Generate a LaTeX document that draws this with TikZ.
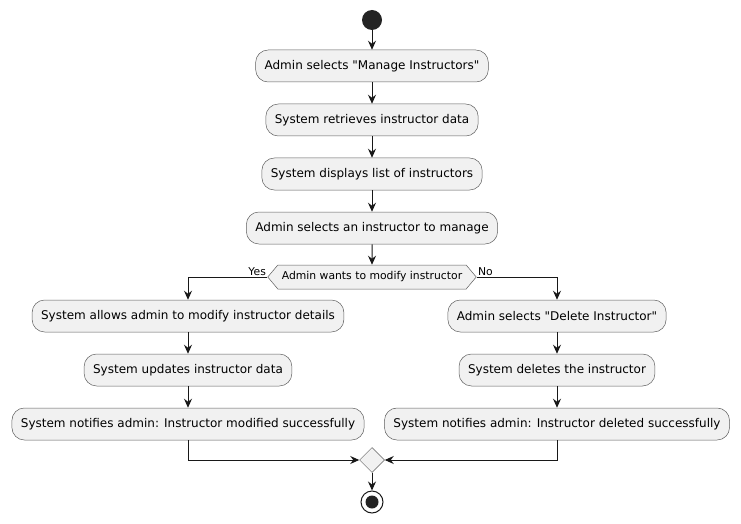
\documentclass[tikz,border=0pt]{standalone}
\usepackage{fontspec}
\setmainfont{DejaVu Sans}[Ligatures=TeXOff]
\usetikzlibrary{arrows.meta,shapes.geometric,shapes.symbols,positioning}
\definecolor{actfill}{HTML}{F1F1F1}
\definecolor{actline}{HTML}{181818}

\begin{document}
\begin{tikzpicture}[x=1pt,y=1pt,->,>={Stealth[length=9pt,width=8pt,inset=3pt]},
                    line width=1pt,draw=actline,node distance=54pt,
    activity/.style={rectangle,rounded corners=12.5pt,draw=actline!70,line width=0.5pt,
                     fill=actfill,minimum height=32pt,inner xsep=9pt,
                     font=\fontsize{12}{14}\selectfont},
    decision/.style={signal,signal to=west and east,signal pointer angle=100,
                     draw=actline!70,line width=0.5pt,fill=actfill,minimum height=24pt,
                     inner xsep=4pt,font=\fontsize{10.8}{12}\selectfont},
    merge/.style={diamond,draw=actline!70,line width=0.5pt,fill=actfill,
                  minimum size=25pt,inner sep=0pt},
    initialstate/.style={circle,fill=actline!95,minimum size=20pt,inner sep=0pt},
    finalstate/.style={circle,draw=actline,line width=1pt,minimum size=22pt,inner sep=0pt,
                       path picture={\fill[actline!95] (path picture bounding box.center) circle (6.5pt);}},
    branch/.style={font=\fontsize{10.8}{12}\selectfont,inner sep=1pt}]
  \useasboundingbox (0,0) rectangle (741,523);

  \node[initialstate] (start) at (372,503) {};
  \node[activity] (select) at (372,457) {Admin selects "Manage Instructors"};
  \node[activity] (retrieve) [below of=select] {System retrieves instructor data};
  \node[activity] (display) [below of=retrieve] {System displays list of instructors};
  \node[activity] (pick) [below of=display] {Admin selects an instructor to manage};
  \node[decision] (modify) at (372,246) {Admin wants to modify instructor};

  \node[activity] (allow) at (188,207) {System allows admin to modify instructor details};
  \node[activity] (update) [below of=allow] {System updates instructor data};
  \node[activity] (modified) [below of=update] {System notifies admin: Instructor modified successfully};

  \node[activity] (delsel) at (557,207) {Admin selects "Delete Instructor"};
  \node[activity] (delete) [below of=delsel] {System deletes the instructor};
  \node[activity] (deleted) [below of=delete] {System notifies admin: Instructor deleted successfully};

  \node[merge] (join) at (372,63) {};
  \node[finalstate] (end) at (372,21) {};

  \draw (start) -- (select);
  \draw (select) -- (retrieve);
  \draw (retrieve) -- (display);
  \draw (display) -- (pick);
  \draw (pick) -- (modify);
  \draw (modify.west) -| node[pos=0,above left,branch] {Yes} (allow.north);
  \draw (modify.east) -| node[pos=0,above right,branch] {No} (delsel.north);
  \draw (allow) -- (update);
  \draw (update) -- (modified);
  \draw (delsel) -- (delete);
  \draw (delete) -- (deleted);
  \draw (modified.south) |- (join.west);
  \draw (deleted.south) |- (join.east);
  \draw (join) -- (end);
\end{tikzpicture}
\end{document}
